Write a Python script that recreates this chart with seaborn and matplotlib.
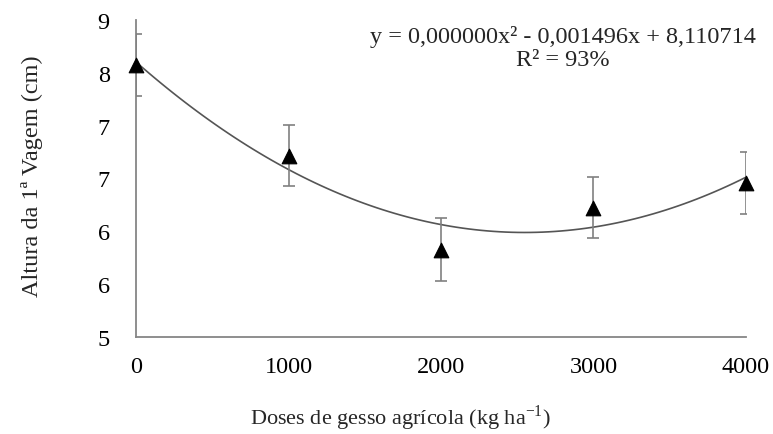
import numpy as np
import pandas as pd
import matplotlib
matplotlib.use("Agg")
import matplotlib.pyplot as plt
import seaborn as sns
from matplotlib.ticker import FuncFormatter

# Data
doses = [0, 1000, 2000, 3000, 4000]
altura = [8.09, 7.06, 5.99, 6.47, 6.75]
erro = [0.35, 0.35, 0.36, 0.35, 0.35]
y_ticks = [5.0, 5.6, 6.2, 6.8, 7.4, 8.0, 8.6]
x_ticks = [0, 1000, 2000, 3000, 4000]

df = pd.DataFrame({"dose": doses, "altura": altura, "erro": erro})

sns.set_style("white")
plt.rcParams['font.family'] = ['Liberation Serif', 'DejaVu Serif']
plt.rcParams['mathtext.fontset'] = 'custom'
plt.rcParams['mathtext.rm'] = 'Liberation Serif'

fig = plt.figure(figsize=(7.73, 4.35), dpi=100)
ax = fig.add_axes([0.176, 0.223, 0.789, 0.729])

# quadratic trendline
sns.regplot(data=df, x="dose", y="altura", order=2, ci=None, scatter=False,
            line_kws={"color": "#555555", "lw": 1.2}, ax=ax)

ax.errorbar(df["dose"], df["altura"], yerr=df["erro"], fmt="none",
            ecolor="#808080", elinewidth=1.2, capsize=4, capthick=1.2, zorder=3)
sns.scatterplot(data=df, x="dose", y="altura", marker="^", s=110,
                color="black", edgecolor="black", zorder=4, ax=ax, clip_on=False)

ax.set_xlim(0, 4000)
ax.set_ylim(5, 8.6)
ax.set_xticks(x_ticks)
ax.set_yticks(y_ticks)
ax.yaxis.set_major_formatter(FuncFormatter(lambda v, p: f"{int(np.floor(v + 0.5))}"))
ax.tick_params(length=0, labelsize=17.5, colors="black")
ax.tick_params(axis="y", pad=19)
ax.tick_params(axis="x", pad=14)

for s in ["top", "right"]:
    ax.spines[s].set_visible(False)
for s in ["left", "bottom"]:
    ax.spines[s].set_color("#868686")
    ax.spines[s].set_linewidth(1.3)

ax.set_xlabel("Doses de gesso agrícola (kg ha$^{\\mathregular{-1}}$)", fontsize=16)
ax.xaxis.set_label_coords(0.433, -0.205)
ax.set_ylabel("Altura da 1ª Vagem (cm)", fontsize=17.5)
ax.yaxis.set_label_coords(-0.153, 0.51)

ax.text(0.70, 0.913, "y = 0,000000x² - 0,001496x + 8,110714\nR² = 93%",
        transform=ax.transAxes, ha="center", va="center", fontsize=17.5,
        linespacing=1.1)

fig.savefig("out.png", dpi=100)
